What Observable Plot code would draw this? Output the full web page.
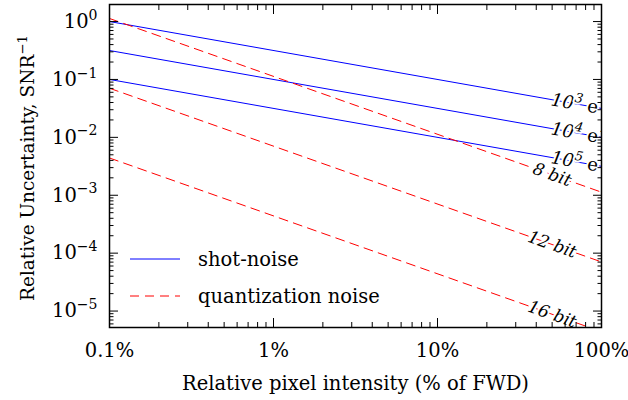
<!DOCTYPE html>
<html><head><meta charset="utf-8">
<script src="https://cdn.jsdelivr.net/npm/d3@7"></script>
<script src="https://cdn.jsdelivr.net/npm/@observablehq/plot@0.6"></script>
<style>
body{margin:0;background:#fff;}
#wrap{position:relative;width:628px;height:400px;font-family:"DejaVu Serif",serif;color:#000;}
.leg{position:absolute;left:130px;display:flex;align-items:center;height:30px;font-size:19.5px;white-space:nowrap;}
.leg svg{margin-right:18px;}
</style></head><body><div id="wrap"></div>
<script>
// ---- data ----
const xEnds = [0.1, 100];                       // relative pixel intensity, % of FWD
const shotNames = ["10^{3}{r: e}^{−}", "10^{4}{r: e}^{−}", "10^{5}{r: e}^{−}"];
const shotStart = [1.0, 0.316, 0.1];            // SNR^-1 at 0.1 %
const shotEnd = [0.0316, 0.01, 0.00316];        // SNR^-1 at 100 %
const quantNames = ["8 bit", "12 bit", "16 bit"];
const quantStart = [1.13, 0.0705, 0.0044];
const quantEnd = [0.00113, 7.05e-5, 4.4e-6];
const shotLabelX = [74, 74, 74];
const shotLabelY = [0.0368, 0.0116, 0.00368];
const quantLabelX = [50, 50, 50];
const quantLabelY = [0.00226, 1.41e-4, 8.8e-6];
const xTicks = [0.1, 1, 10, 100];
const xTickLabels = ["0.1%", "1%", "10%", "100%"];
const yTicks = [1, 0.1, 0.01, 0.001, 1e-4, 1e-5];
const yTickLabels = ["10^{0}", "10^{−1}", "10^{−2}", "10^{−3}", "10^{−4}", "10^{−5}"];
const legendLabels = ["shot-noise", "quantization noise"];
const xLabel = "Relative pixel intensity (% of FWD)";
const yLabel = "Relative Uncertainty, SNR^{−1}";

const BLUE = "#0000ff", RED = "#ff0000", DASH = "9,6";
const FS = 19.5;

const shotRows = shotNames.flatMap((s, i) => [
  {x: xEnds[0], y: shotStart[i], series: s},
  {x: xEnds[1], y: shotEnd[i], series: s}]);
const quantRows = quantNames.flatMap((s, i) => [
  {x: xEnds[0], y: quantStart[i], series: s},
  {x: xEnds[1], y: quantEnd[i], series: s}]);
const shotLabels = shotNames.map((s, i) => ({x: shotLabelX[i], y: shotLabelY[i], text: s}));
const quantLabels = quantNames.map((s, i) => ({x: quantLabelX[i], y: quantLabelY[i], text: s}));

const yDomain = [5.2e-6, 1.97];
const minor = (lo, hi) => {
  const out = [];
  for (let e = Math.floor(Math.log10(lo)); e <= Math.ceil(Math.log10(hi)); e++)
    for (let m = 2; m <= 9; m++) { const v = m * Math.pow(10, e); if (v >= lo && v <= hi) out.push(v); }
  return out;
};
const xMinor = minor(0.1, 100);
const yMinor = minor(yDomain[0], yDomain[1]);

const plot = Plot.plot({
  width: 628, height: 400,
  marginLeft: 109, marginRight: 27, marginTop: 4, marginBottom: 73,
  style: {fontFamily: "DejaVu Serif", fontSize: FS + "px", color: "#000", background: "#fff"},
  x: {type: "log", domain: [0.1, 100]},
  y: {type: "log", domain: yDomain},
  marks: [
    Plot.line(shotRows, {x: "x", y: "y", z: "series", stroke: BLUE, strokeWidth: 1, clip: true}),
    Plot.line(quantRows, {x: "x", y: "y", z: "series", stroke: RED, strokeWidth: 1, strokeDasharray: DASH, clip: true}),
    Plot.text(shotLabels, {x: "x", y: "y", text: "text", rotate: 10, fontStyle: "italic", fontSize: 18,
      fill: "#000", stroke: "#fff", strokeWidth: 4, textAnchor: "middle", clip: true}),
    Plot.text(quantLabels, {x: "x", y: "y", text: "text", rotate: 19.5, fontStyle: "italic", fontSize: 17,
      fill: "#000", stroke: "#fff", strokeWidth: 4, textAnchor: "middle", clip: true}),
    // ticks (inward)
    Plot.axisX(xTicks, {anchor: "bottom", tickSize: -9, fill: "none", label: null}),
    Plot.axisX(xMinor, {anchor: "bottom", tickSize: -5, fill: "none", label: null}),
    Plot.axisX(xTicks, {anchor: "top", tickSize: -9, fill: "none", label: null}),
    Plot.axisX(xMinor, {anchor: "top", tickSize: -5, fill: "none", label: null}),
    Plot.axisY(yTicks, {anchor: "left", tickSize: -9, fill: "none", label: null}),
    Plot.axisY(yMinor, {anchor: "left", tickSize: -4.5, fill: "none", label: null}),
    Plot.axisY(yTicks, {anchor: "right", tickSize: -9, fill: "none", label: null}),
    Plot.axisY(yMinor, {anchor: "right", tickSize: -4.5, fill: "none", label: null}),
    // tick labels
    Plot.axisX(xTicks, {anchor: "bottom", tickSize: 0, tickPadding: 16, stroke: "none",
      tickFormat: d => xTickLabels[xTicks.indexOf(d)], label: null}),
    Plot.axisY(yTicks, {anchor: "left", tickSize: 0, tickPadding: 12, stroke: "none",
      tickFormat: d => yTickLabels[yTicks.indexOf(d)], label: null}),
    // axis titles
    Plot.text([xLabel], {frameAnchor: "bottom", dy: 56, text: d => d, lineAnchor: "middle", textAnchor: "middle", fontSize: FS}),
    Plot.text([yLabel], {frameAnchor: "left", dx: -81, dy: 2, text: d => d, rotate: -90, lineAnchor: "middle", textAnchor: "middle", fontSize: 18.5}),
    Plot.frame({stroke: "#000", strokeWidth: 1.5})
  ]
});

const wrap = document.getElementById("wrap");
wrap.appendChild(plot);

// rich text: ^{...} superscript, {r:...} roman
function richify(root) {
  d3.select(root).selectAll("text").each(function() {
    const t = this;
    if (t.querySelector("tspan")) return;
    const s = t.textContent;
    if (!/\^\{|\{r:/.test(s)) return;
    const fs = parseFloat(getComputedStyle(t).fontSize) || FS;
    const parts = s.split(/(\^\{[^}]*\}|\{r:[^}]*\})/).filter(p => p !== "");
    t.textContent = "";
    let up = false;
    const sel = d3.select(t);
    for (const p of parts) {
      const ts = sel.append("tspan");
      if (p.startsWith("^{")) {
        ts.text(p.slice(2, -1)).attr("font-size", (0.72 * fs) + "px");
        if (!up) { ts.attr("dy", -0.42 * fs); up = true; }
      } else {
        const roman = p.startsWith("{r:");
        ts.text(roman ? p.slice(3, -1) : p);
        if (roman) ts.attr("font-style", "normal");
        if (up) { ts.attr("dy", 0.42 * fs); up = false; }
      }
    }
  });
}
richify(plot);

// legend
legendLabels.forEach((lab, i) => {
  const div = document.createElement("div");
  div.className = "leg";
  div.style.top = (244 + i * 37) + "px";
  const color = i === 0 ? BLUE : RED;
  const dash = i === 0 ? "" : `stroke-dasharray="${DASH}"`;
  div.innerHTML = `<svg width="50" height="4"><line x1="0" x2="50" y1="2" y2="2" stroke="${color}" stroke-width="1" ${dash}/></svg><span>${lab}</span>`;
  wrap.appendChild(div);
});
</script>
</body></html>
